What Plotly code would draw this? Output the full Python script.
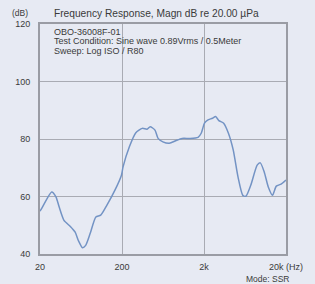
import plotly.graph_objects as go

freq_hz = [20, 20.9, 27.8, 31.3, 34.2, 39.2, 46.9, 53.7, 58.7, 65.9, 72.1, 81.7, 96, 110, 131, 164, 197,
           206, 246, 295, 353, 404, 441, 505, 551, 631, 755, 904, 1080, 1354, 1693, 1850, 2027, 2215,
           2534, 2770, 3034, 3472, 3972, 4542, 5196, 5944, 6498, 7432, 8898, 9728, 10832, 12160,
           13680, 15240, 17420, 20000]
magn_db = [54.9, 55.8, 61.6, 59.9, 56.4, 51.7, 49.6, 47.6, 44.7, 42.2, 43.0, 47.1, 52.9, 53.5, 57.0, 62.2, 67.4,
           70.3, 77.3, 82.2, 83.7, 83.4, 84.3, 83.1, 80.2, 79.0, 78.5, 79.4, 80.2, 80.2, 80.6, 82.0, 85.5, 86.6,
           87.2, 87.8, 86.4, 85.5, 82.0, 76.2, 66.8, 60.4, 60.1, 63.9, 70.9, 71.7, 68.6, 63.3,
           60.4, 63.6, 64.3, 65.7]

x_tickvals = [20, 200, 2000, 20000]
x_ticktext = ["20", "200", "2k", "20k (Hz)"]
y_tickvals = [40, 60, 80, 100, 120]
y_ticktext = ["40", "60", "80", "100", "120"]

title_text = "Frequency Response, Magn dB re 20.00 \u00b5Pa"
info_lines = ["OBO-36008F-01", "Test Condition: Sine wave 0.89Vrms / 0.5Meter", "Sweep: Log ISO / R80"]

bg = "#e7eaf3"
txt = "#3a3a3a"
grid = "#a9abb3"

fig = go.Figure()
fig.add_trace(go.Scatter(x=freq_hz, y=magn_db, mode="lines",
                         line=dict(color="#7393c4", width=1.5, shape="spline", smoothing=0.6),
                         hoverinfo="skip"))

fig.update_layout(
    width=315, height=284,
    margin=dict(l=40, r=18, t=24, b=30),
    paper_bgcolor=bg, plot_bgcolor=bg,
    showlegend=False,
    font=dict(family="Liberation Sans, Arial, sans-serif", size=9, color=txt),
    xaxis=dict(type="log", range=[1.30103, 4.30103], tickvals=x_tickvals, ticktext=x_ticktext,
               showgrid=True, gridcolor=grid, gridwidth=1.3,
               showline=True, linecolor="#9a9ca4", linewidth=1.8, mirror=True,
               ticks="outside", ticklen=3, tickcolor="rgba(0,0,0,0)", zeroline=False,
               tickfont=dict(size=9, color=txt)),
    yaxis=dict(range=[40, 120], tickvals=y_tickvals, ticktext=y_ticktext,
               showgrid=True, gridcolor=grid, gridwidth=1.3,
               showline=True, linecolor="#9a9ca4", linewidth=1.8, mirror=True,
               ticks="outside", ticklen=6, tickcolor="rgba(0,0,0,0)", zeroline=False,
               tickfont=dict(size=9, color=txt)),
)

fig.add_annotation(text="(dB)", xref="paper", yref="paper", x=-0.12, y=1.0, yshift=11,
                   xanchor="left", yanchor="middle", showarrow=False, font=dict(size=8.5, color=txt))
fig.add_annotation(text=title_text, xref="paper", yref="paper", x=0.05, y=1.0, yshift=11,
                   xanchor="left", yanchor="middle", showarrow=False, font=dict(size=10.2, color=txt))
for i, line in enumerate(info_lines):
    fig.add_annotation(text=line, xref="paper", yref="paper", x=0.05, y=1.0, yshift=-7.5 - 9.5 * i,
                       xanchor="left", yanchor="middle", align="left", showarrow=False,
                       font=dict(size=9, color=txt))
fig.add_annotation(text="Mode: SSR", xref="paper", yref="paper", x=1.0, y=0, yshift=-25, xshift=5,
                   xanchor="right", yanchor="middle", showarrow=False, font=dict(size=8.5, color=txt))

fig.write_html("out.html", config={"displayModeBar": False},
               post_script="document.body.style.margin='0';document.body.style.background='%s';" % bg)
